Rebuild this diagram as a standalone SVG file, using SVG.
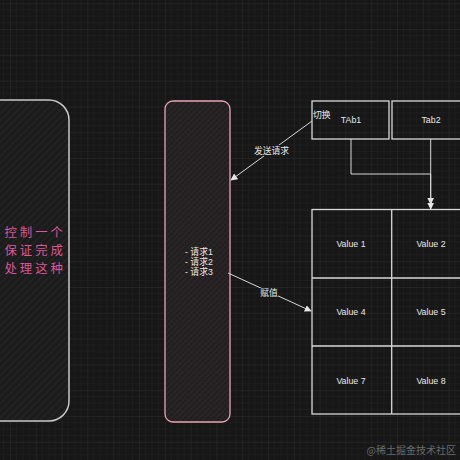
<svg xmlns="http://www.w3.org/2000/svg" width="460" height="460" viewBox="0 0 460 460">
<defs>
<pattern id="grid" x="10" y="3.2" width="25.8" height="25.8" patternUnits="userSpaceOnUse">
<path d="M6.45 0V25.8M12.9 0V25.8M19.35 0V25.8M0 6.45H25.8M0 12.9H25.8M0 19.35H25.8" stroke="#222" stroke-width="0.6" fill="none"/>
<path d="M0 0V25.8M0 0H25.8" stroke="#2e2e2e" stroke-width="1" fill="none"/>
</pattern>
<pattern id="hatch" width="5" height="5" patternUnits="userSpaceOnUse" patternTransform="rotate(45)">
<rect width="5" height="5" fill="#1c1c1c"/>
<line x1="0" y1="0" x2="0" y2="5" stroke="#262626" stroke-width="2"/>
</pattern>
<pattern id="hatch2" width="4" height="4" patternUnits="userSpaceOnUse" patternTransform="rotate(45)">
<rect width="4" height="4" fill="#221e1f"/>
<line x1="0" y1="0" x2="0" y2="4" stroke="#2f2a2b" stroke-width="1.6"/>
<line x1="0" y1="2" x2="4" y2="2" stroke="#2a2627" stroke-width="0.8"/>
</pattern>
<marker id="arr" viewBox="0 0 10 10" refX="9" refY="5" markerWidth="7" markerHeight="7" orient="auto-start-reverse" markerUnits="userSpaceOnUse">
<path d="M0 0L10 5L0 10Z" fill="#e6e6e6"/>
</marker>
<style>
.t{font-family:"Liberation Sans","Noto Sans CJK SC",sans-serif;fill:#e8e8e8;font-size:8.8px}
.c{text-anchor:middle}
.box{fill:none;stroke:#d8d8d8;stroke-width:1.3}
.ln{fill:none;stroke:#d8d8d8;stroke-width:1}
.pk{font-family:"Noto Sans CJK SC",sans-serif;fill:#d9579c;font-size:12.4px;text-anchor:end;letter-spacing:3px}
.lbl{fill:#181818}
</style>
</defs>
<rect width="460" height="460" fill="#171717"/>
<rect width="460" height="460" fill="url(#grid)"/>

<g id="left-panel">
<rect x="-40" y="100" width="109" height="321" rx="20" fill="url(#hatch)" stroke="#c8c8c8" stroke-width="1.5"/>
<text class="pk" x="66" y="237">控制一个</text>
<text class="pk" x="66" y="255">保证完成</text>
<text class="pk" x="66" y="273">处理这种</text>
</g>

<g id="request-list">
<rect x="165" y="101" width="65" height="321" rx="8" fill="url(#hatch2)" stroke="#e8a4b4" stroke-width="1.3"/>
<text class="t" x="185" y="255">- 请求1</text>
<text class="t" x="185" y="265">- 请求2</text>
<text class="t" x="185" y="275">- 请求3</text>
</g>

<g id="tab1">
<rect class="box" x="312" y="101" width="77" height="38"/>
<text class="t c" x="351" y="123">TAb1</text>
<text class="t" x="313" y="118">切换</text>
</g>
<g id="tab2">
<rect class="box" x="392" y="101" width="80" height="38"/>
<text class="t c" x="431" y="123">Tab2</text>
</g>

<g id="value-table">
<rect class="box" x="312" y="209.5" width="160" height="204.5"/>
<line class="box" x1="391.7" y1="209.5" x2="391.7" y2="414"/>
<line class="box" x1="312" y1="278" x2="472" y2="278"/>
<line class="box" x1="312" y1="346" x2="472" y2="346"/>
<text class="t c" x="351" y="247">Value 1</text>
<text class="t c" x="431" y="247">Value 2</text>
<text class="t c" x="351" y="315">Value 4</text>
<text class="t c" x="431" y="315">Value 5</text>
<text class="t c" x="351" y="384">Value 7</text>
<text class="t c" x="431" y="384">Value 8</text>
</g>

<g id="connectors">
<line class="ln" x1="312" y1="121" x2="231" y2="180" marker-end="url(#arr)"/>
<rect class="lbl" x="255" y="145" width="33" height="11"/>
<text class="t c" x="271.5" y="154">发送请求</text>
<line class="ln" x1="228" y1="273" x2="311" y2="311" marker-end="url(#arr)"/>
<rect class="lbl" x="260" y="288" width="18" height="11"/>
<text class="t c" x="269" y="296">赋值</text>
<path class="ln" d="M351 139V174H430.7V204" marker-end="url(#arr)"/>
<line class="ln" x1="430.7" y1="139" x2="430.7" y2="209" marker-end="url(#arr)"/>
</g>

<text x="456" y="454" font-family="Noto Sans CJK SC,sans-serif" font-size="10" fill="#6a6a6a" text-anchor="end">@稀土掘金技术社区</text>
</svg>
